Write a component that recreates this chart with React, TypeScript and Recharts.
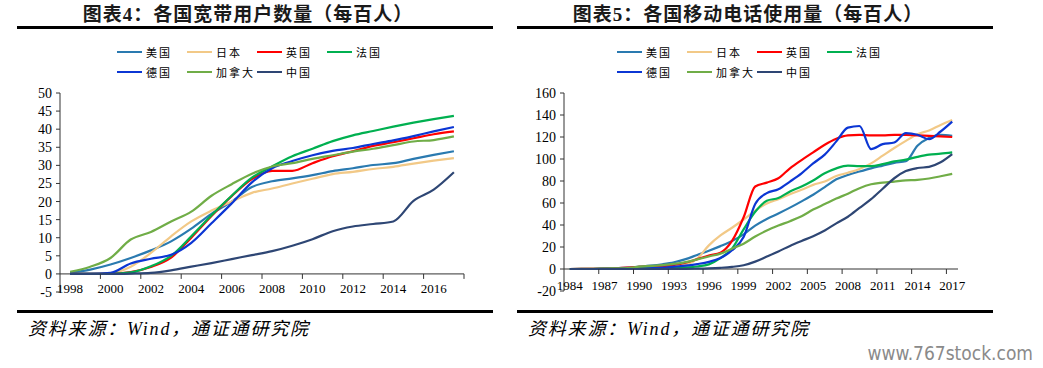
import { LineChart, Line, XAxis, YAxis, ReferenceLine } from 'recharts'

// 各国宽带用户数量（每百人）
const bbYears = [1998, 1999, 2000, 2001, 2002, 2003, 2004, 2005, 2006, 2007, 2008, 2009, 2010, 2011, 2012, 2013, 2014, 2015, 2016, 2017]
const bbUS = [0.3, 1.2, 2.6, 4.4, 6.5, 9.0, 12.5, 16.6, 20.0, 24.0, 25.6, 26.4, 27.3, 28.4, 29.2, 30.1, 30.6, 31.8, 32.9, 33.9]
const bbJP = [0, 0, 0.2, 2.0, 5.8, 10.4, 14.5, 17.5, 20.0, 22.4, 23.6, 25.0, 26.3, 27.6, 28.2, 29.0, 29.6, 30.5, 31.3, 32.0]
const bbUK = [0, 0, 0, 0.5, 1.9, 4.5, 10.0, 16.0, 21.5, 26.2, 28.5, 28.5, 30.6, 32.5, 33.9, 35.4, 36.4, 37.5, 38.6, 39.4]
const bbFR = [0, 0, 0, 0.4, 2.1, 5.0, 10.4, 16.2, 21.6, 26.6, 29.7, 32.5, 34.6, 36.7, 38.3, 39.5, 40.7, 41.8, 42.8, 43.7]
const bbDE = [0, 0, 0.3, 2.9, 4.2, 5.3, 8.6, 14.0, 19.5, 25.3, 29.2, 31.2, 32.8, 34.0, 34.8, 35.9, 36.9, 38.1, 39.4, 40.6]
const bbCA = [0.6, 2.0, 4.4, 9.5, 11.6, 14.5, 17.2, 21.6, 24.8, 27.7, 29.7, 30.6, 31.8, 32.8, 33.8, 34.6, 35.6, 36.6, 37.0, 38.0]
const bbCN = [0, 0, 0, 0.1, 0.3, 1.0, 2.0, 3.0, 4.1, 5.2, 6.3, 7.8, 9.6, 11.8, 13.1, 13.8, 14.5, 20.2, 23.3, 28.1]
const bbYTicks = [-5, 0, 5, 10, 15, 20, 25, 30, 35, 40, 45, 50]
const bbLabelYears = [1998, 2000, 2002, 2004, 2006, 2008, 2010, 2012, 2014, 2016]
const bbMarkYears = [1999.5, 2001.5, 2003.5, 2005.5, 2007.5, 2009.5, 2011.5, 2013.5, 2015.5, 2017.5]

// 各国移动电话使用量（每百人）
const mbYears = [1984, 1985, 1986, 1987, 1988, 1989, 1990, 1991, 1992, 1993, 1994, 1995, 1996, 1997, 1998, 1999, 2000, 2001, 2002, 2003, 2004, 2005, 2006, 2007, 2008, 2009, 2010, 2011, 2012, 2013, 2014, 2015, 2016, 2017]
const mbUS = [0, 0.04, 0.2, 0.4, 0.8, 1.3, 2.1, 3.0, 4.3, 6.1, 9.0, 12.8, 16.6, 20.8, 25.5, 31.5, 39.5, 45.5, 50.5, 55.8, 61.5, 67.5, 74.5, 81.5, 85.5, 88.6, 91.5, 94.0, 96.5, 98.0, 112, 119, 122, 121]
const mbJP = [0, 0, 0.1, 0.2, 0.2, 0.4, 0.7, 1.1, 1.4, 1.7, 3.5, 9.5, 21.5, 30.5, 37.5, 45, 53, 59.5, 63.5, 68, 72, 76.5, 79.5, 84.5, 87.5, 91, 96, 103, 110, 116.5, 122.5, 126, 131, 135.5]
const mbUK = [0, 0.1, 0.2, 0.4, 0.7, 1.2, 1.9, 2.2, 2.7, 3.8, 5.8, 9.0, 12.3, 14.8, 25.5, 47, 75, 78.5, 82.5, 91.5, 99, 106, 113, 118.5, 121.5, 122, 121.5, 121.5, 122, 121.8, 121.5, 121, 120.5, 120]
const mbFR = [0, 0, 0, 0.1, 0.2, 0.3, 0.5, 0.7, 0.8, 1.1, 1.5, 2.3, 4.2, 9.9, 18.5, 36, 52, 62, 64.5, 70.5, 75, 80.5, 87, 91.5, 94, 93.5, 93.5, 95.3, 97.8, 99.5, 102, 104, 104.8, 106]
const mbDE = [0, 0, 0, 0.1, 0.2, 0.4, 0.4, 0.7, 1.2, 2.2, 3.0, 4.5, 6.5, 10, 17, 29, 59, 69, 72.5, 79.5, 87, 96, 104, 116, 128.5, 130, 109, 113.5, 115, 123.5, 122, 118, 125, 134]
const mbCA = [0, 0.1, 0.2, 0.3, 0.6, 0.9, 2.1, 2.8, 3.6, 4.6, 6.2, 8.7, 11.4, 14, 18.5, 23, 29.5, 35, 39.5, 43.5, 48, 54, 59, 64, 68.5, 73.5, 77, 78.5, 79.5, 80.5, 81, 82.3, 84.3, 86.5]
const mbCN = [0, 0, 0, 0, 0, 0, 0, 0, 0, 0.1, 0.1, 0.3, 0.6, 1.1, 1.9, 3.4, 6.7, 11.3, 16, 21, 25.5, 29.8, 35, 41.5, 47.5, 55.5, 63.5, 73, 82.5, 89, 91.8, 92.8, 97, 104.4]
const mbYTicks = [-20, 0, 20, 40, 60, 80, 100, 120, 140, 160]
const mbLabelYears = [1984, 1987, 1990, 1993, 1996, 1999, 2002, 2005, 2008, 2011, 2014, 2017]
const mbMarkYears = [1986.5, 1989.5, 1992.5, 1995.5, 1998.5, 2001.5, 2004.5, 2007.5, 2010.5, 2013.5, 2016.5]

const countries = ['美国', '日本', '英国', '法国', '德国', '加拿大', '中国']
const keys = ['us', 'jp', 'uk', 'fr', 'de', 'ca', 'cn']
const colors = ['#2A7AB0', '#F2C987', '#FF0000', '#00B050', '#0B36D4', '#70AD47', '#2E4674']

const bbRows = bbYears.map((year, i) => ({
  year, us: bbUS[i], jp: bbJP[i], uk: bbUK[i], fr: bbFR[i], de: bbDE[i], ca: bbCA[i], cn: bbCN[i],
}))
const mbRows = mbYears.map((year, i) => ({
  year, us: mbUS[i], jp: mbJP[i], uk: mbUK[i], fr: mbFR[i], de: mbDE[i], ca: mbCA[i], cn: mbCN[i],
}))

const SERIF = '"Liberation Serif", "Times New Roman", "Noto Sans CJK SC", serif'
const AXIS = '#333'

// x axis sits on the zero line, so ticks are drawn lifted from the plot bottom
function YearTick(props: any) {
  const { x, y, payload, lift, gap } = props
  const v = payload.value
  const y0 = y - lift
  if (!Number.isInteger(v)) {
    return <line x1={x} x2={x} y1={y0} y2={y0 + 5} stroke={AXIS} strokeWidth={1} />
  }
  return (
    <text x={x} y={y0 + gap} textAnchor="middle" dominantBaseline="central" fontSize={13} fontFamily={SERIF} fill="#000">
      {v}
    </text>
  )
}

function Legend({ left }: { left: number }) {
  const spots = [
    [0, 0], [70, 0], [140, 0], [210, 0],
    [0, 20], [70, 20], [140, 20],
  ]
  return (
    <>
      {countries.map((c, i) => (
        <div
          key={c}
          style={{
            position: 'absolute', left: left + spots[i][0], top: 44 + spots[i][1], height: 16,
            display: 'flex', alignItems: 'center', whiteSpace: 'nowrap',
          }}
        >
          <div style={{ width: 25, height: 2.5, background: colors[i] }} />
          <span style={{ marginLeft: 4, fontSize: 11, letterSpacing: 2, color: '#000', fontFamily: SERIF }}>{c}</span>
        </div>
      ))}
    </>
  )
}

function Panel(props: {
  left: number; title: string; rows: any[]; domainX: [number, number]; domainY: [number, number]
  yTicks: number[]; xTicks: number[]; yWidth: number; right: number; xHeight: number; gap: number
}) {
  const { left, title, rows, domainX, domainY, yTicks, xTicks, yWidth, right, xHeight, gap } = props
  const W = 480
  const H = 220
  const top = 8
  const plotH = H - top - xHeight
  const lift = (plotH * (0 - domainY[0])) / (domainY[1] - domainY[0])
  return (
    <>
      <div
        style={{
          position: 'absolute', left: left + 10, width: 476, top: 3, height: 24, lineHeight: '24px',
          textAlign: 'center', fontSize: 19, fontWeight: 700, letterSpacing: 1, fontFamily: SERIF, color: '#1a1a1a',
        }}
      >
        {title}
      </div>
      <div style={{ position: 'absolute', left: left + 17, top: 25.5, width: 476, height: 3, background: '#000' }} />
      <Legend left={left + 117} />
      <div style={{ position: 'absolute', left, top: 85 }}>
        <LineChart width={W} height={H} data={rows} margin={{ top, right, bottom: 0, left: 0 }}>
          <XAxis
            type="number"
            dataKey="year"
            domain={domainX}
            ticks={xTicks}
            interval={0}
            axisLine={false}
            tickLine={false}
            tickSize={0}
            tickMargin={0}
            height={xHeight}
            tick={<YearTick lift={lift} gap={gap} />}
          />
          <YAxis
            type="number"
            domain={domainY}
            ticks={yTicks}
            interval={0}
            width={yWidth}
            axisLine={{ stroke: AXIS }}
            tickLine={{ stroke: AXIS }}
            tickSize={4}
            tickMargin={4}
            tick={{ fontSize: 14, fontFamily: SERIF, fill: '#000' }}
          />
          <ReferenceLine y={0} stroke={AXIS} strokeWidth={1} />
          {keys.map((k, i) => (
            <Line
              key={k}
              type="monotone"
              dataKey={k}
              name={countries[i]}
              stroke={colors[i]}
              strokeWidth={2.2}
              dot={false}
              isAnimationActive={false}
            />
          ))}
        </LineChart>
      </div>
      <div style={{ position: 'absolute', left: left + 17, top: 309.5, width: 476, height: 3, background: '#000' }} />
      <div
        style={{
          position: 'absolute', left: left + 28, top: 318, height: 22, lineHeight: '22px',
          fontSize: 18, letterSpacing: 1.8, fontStyle: 'italic', fontFamily: SERIF, color: '#000', whiteSpace: 'nowrap',
        }}
      >
        资料来源：Wind，通证通研究院
      </div>
    </>
  )
}

export default function App() {
  return (
    <div
      style={{
        position: 'absolute', left: 0, top: 0, width: 1043, height: 368,
        background: '#fff', overflow: 'hidden',
      }}
    >
      <Panel
        left={0}
        title="图表4：各国宽带用户数量（每百人）"
        rows={bbRows}
        domainX={[1997.5, 2017.5]}
        domainY={[-5, 50]}
        yTicks={bbYTicks}
        xTicks={[...bbLabelYears, ...bbMarkYears]}
        yWidth={60}
        right={16}
        xHeight={13}
        gap={15}
      />
      <Panel
        left={500}
        title="图表5：各国移动电话使用量（每百人）"
        rows={mbRows}
        domainX={[1983.5, 2017.5]}
        domainY={[-20, 160]}
        yTicks={mbYTicks}
        xTicks={[...mbLabelYears, ...mbMarkYears]}
        yWidth={64}
        right={22}
        xHeight={14}
        gap={16}
      />
      <div
        style={{
          position: 'absolute', right: 10, top: 341, height: 24, lineHeight: '24px',
          fontSize: 19, fontFamily: '"Liberation Sans Narrow", "DejaVu Sans Condensed", sans-serif',
          color: '#8a8a8a', whiteSpace: 'nowrap',
        }}
      >
        www.767stock.com
      </div>
    </div>
  )
}
